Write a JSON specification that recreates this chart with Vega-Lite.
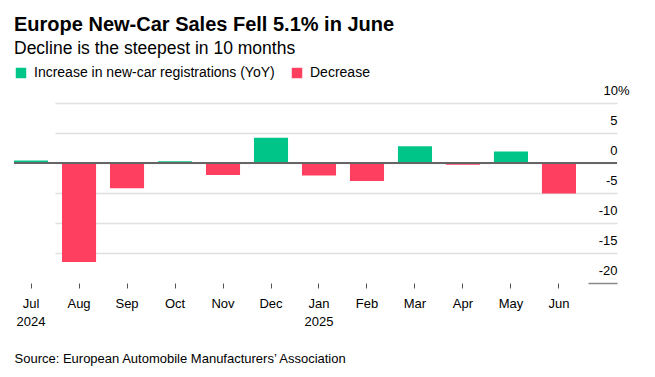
{
  "$schema": "https://vega.github.io/schema/vega-lite/v6.json",
  "width": 603,
  "height": 180,
  "autosize": {"type": "none"},
  "padding": {"left": 14, "top": 103, "right": 38, "bottom": 94},
  "background": "white",
  "title": {
    "text": "Europe New-Car Sales Fell 5.1% in June",
    "subtitle": "Decline is the steepest in 10 months",
    "anchor": "start",
    "frame": "group",
    "font": "Liberation Sans",
    "fontSize": 20,
    "fontWeight": "bold",
    "color": "#000000",
    "subtitleFont": "Liberation Sans",
    "subtitleFontSize": 17.5,
    "subtitleColor": "#000000",
    "subtitlePadding": 5,
    "offset": 9
  },
  "data": {
    "values": [
      {"month": "Jul|2024", "value": 0.4},
      {"month": "Aug", "value": -16.5},
      {"month": "Sep", "value": -4.2},
      {"month": "Oct", "value": 0.3},
      {"month": "Nov", "value": -2.0},
      {"month": "Dec", "value": 4.2},
      {"month": "Jan|2025", "value": -2.1},
      {"month": "Feb", "value": -3.0},
      {"month": "Mar", "value": 2.8},
      {"month": "Apr", "value": -0.3},
      {"month": "May", "value": 1.9},
      {"month": "Jun", "value": -5.1}
    ]
  },
  "transform": [
    {"calculate": "datum.value >= 0 ? 'Increase in new-car registrations (YoY)' : 'Decrease'", "as": "type"}
  ],
  "layer": [
    {
      "mark": {"type": "bar"},
      "encoding": {
        "x": {
          "field": "month",
          "type": "ordinal",
          "sort": null,
          "scale": {"range": [0, 562], "paddingInner": 0.29, "paddingOuter": 0},
          "axis": {
            "domain": false,
            "grid": false,
            "ticks": true,
            "tickSize": 5,
            "tickColor": "#555555",
            "tickWidth": 1,
            "labelExpr": "split(datum.label, '|')",
            "labelFont": "Liberation Sans",
            "labelFontSize": 13,
            "labelColor": "#000000",
            "labelPadding": 9,
            "labelLineHeight": 18,
            "labelAngle": 0,
            "title": "Source: European Automobile Manufacturers’ Association",
            "titleFont": "Liberation Sans",
            "titleFontSize": 13,
            "titleFontWeight": "normal",
            "titleColor": "#000000",
            "titleAnchor": "start",
            "titleAlign": "left",
            "titlePadding": 24
          }
        },
        "y": {
          "field": "value",
          "type": "quantitative",
          "scale": {"domain": [-20, 10], "nice": false, "zero": false},
          "axis": {
            "orient": "right",
            "values": [10, 5, 0, -5, -10, -15, -20],
            "tickCount": 12,
            "domain": false,
            "grid": true,
            "gridColor": {"condition": {"test": "datum.value == -20", "value": "transparent"}, "value": "#e0e0e0"},
            "gridWidth": 1.3,
            "ticks": true,
            "tickSize": -29,
            "tickWidth": 1.5,
            "tickColor": {"condition": {"test": "datum.value == -20", "value": "#888888"}, "value": "transparent"},
            "labelExpr": "datum.value == 10 ? '10%' : '' + datum.value",
            "labelAlign": "right",
            "labelOverlap": false,
            "labelPadding": {"condition": {"test": "datum.value == 10", "value": 41}, "value": 29},
            "labelBaseline": "alphabetic",
            "labelOffset": -9,
            "labelFont": "Liberation Sans",
            "labelFontSize": 13,
            "labelColor": "#000000",
            "title": null
          }
        },
        "color": {
          "field": "type",
          "type": "nominal",
          "scale": {
            "domain": ["Increase in new-car registrations (YoY)", "Decrease"],
            "range": ["#00c588", "#ff3f5f"]
          },
          "legend": {
            "orient": "none",
            "legendX": 0,
            "legendY": -37,
            "direction": "horizontal",
            "title": null,
            "symbolType": "square",
            "symbolSize": 110,
            "symbolStrokeWidth": 0,
            "labelFont": "Liberation Sans",
            "labelFontSize": 14,
            "labelLimit": 400,
            "labelColor": "#000000",
            "labelOffset": 6,
            "columnPadding": 15
          }
        }
      }
    },
    {
      "mark": {"type": "rule", "color": "#666666", "strokeWidth": 1.5},
      "encoding": {"y": {"datum": 0}}
    }
  ],
  "config": {"view": {"stroke": null}}
}
